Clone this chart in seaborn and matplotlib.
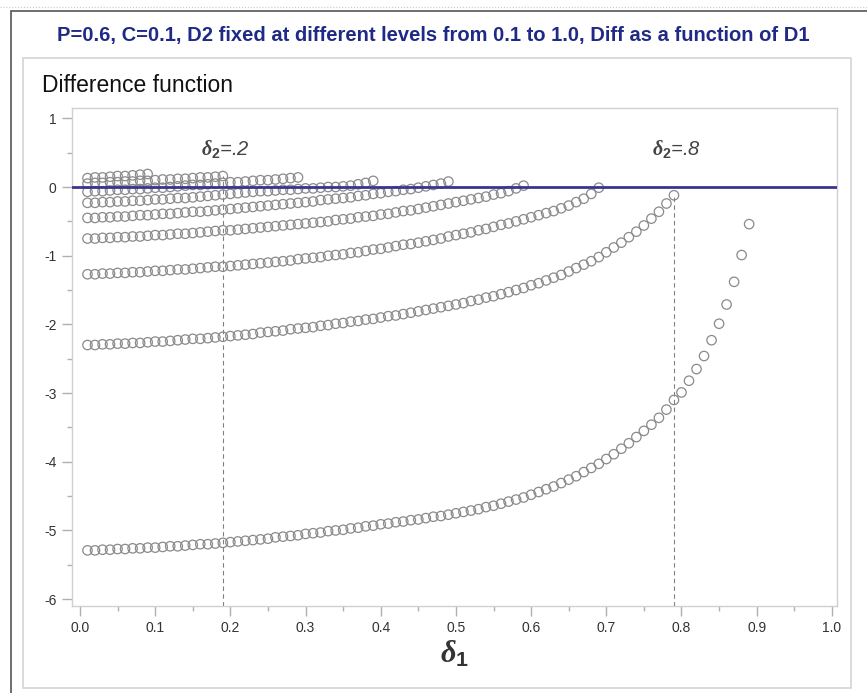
import seaborn as sns
import pandas as pd
import matplotlib
matplotlib.use("Agg")
from matplotlib import pyplot as plt
from matplotlib.patches import Rectangle
from matplotlib.lines import Line2D
from matplotlib.ticker import MultipleLocator

# D1 grid (delta_1), step of one hundredth
d1 = [0.01, 0.02, 0.03, 0.04, 0.05, 0.06, 0.07, 0.08, 0.09, 0.10,
      0.11, 0.12, 0.13, 0.14, 0.15, 0.16, 0.17, 0.18, 0.19, 0.20,
      0.21, 0.22, 0.23, 0.24, 0.25, 0.26, 0.27, 0.28, 0.29, 0.30,
      0.31, 0.32, 0.33, 0.34, 0.35, 0.36, 0.37, 0.38, 0.39, 0.40,
      0.41, 0.42, 0.43, 0.44, 0.45, 0.46, 0.47, 0.48, 0.49, 0.50,
      0.51, 0.52, 0.53, 0.54, 0.55, 0.56, 0.57, 0.58, 0.59, 0.60,
      0.61, 0.62, 0.63, 0.64, 0.65, 0.66, 0.67, 0.68, 0.69, 0.70,
      0.71, 0.72, 0.73, 0.74, 0.75, 0.76, 0.77, 0.78, 0.79, 0.80,
      0.81, 0.82, 0.83, 0.84, 0.85, 0.86, 0.87, 0.88, 0.89]

# Diff values for each fixed D2 level (each curve runs D1 = 0.01 .. D2-0.01)
diff_d2_01 = [0.13, 0.14, 0.14, 0.15, 0.16, 0.16, 0.17, 0.18, 0.19]
diff_d2_02 = [0.05, 0.06, 0.06, 0.07, 0.07, 0.08, 0.08, 0.09, 0.09, 0.10,
              0.11, 0.11, 0.12, 0.12, 0.13, 0.14, 0.14, 0.15, 0.16]
diff_d2_03 = [-0.07, -0.06, -0.06, -0.05, -0.04, -0.04, -0.03, -0.03, -0.02, -0.01,
              -0.01, 0.00, 0.01, 0.02, 0.03, 0.03, 0.04, 0.05, 0.06, 0.07,
              0.07, 0.08, 0.09, 0.10, 0.10, 0.11, 0.12, 0.13, 0.14]
diff_d2_04 = [-0.23, -0.23, -0.22, -0.22, -0.21, -0.21, -0.20, -0.20, -0.19, -0.18,
              -0.18, -0.17, -0.16, -0.16, -0.15, -0.14, -0.13, -0.12, -0.11, -0.10,
              -0.09, -0.08, -0.07, -0.06, -0.06, -0.05, -0.04, -0.04, -0.03, -0.02,
              -0.02, -0.01, 0.00, 0.00, 0.01, 0.02, 0.04, 0.06, 0.09]
diff_d2_05 = [-0.45, -0.45, -0.44, -0.44, -0.43, -0.43, -0.42, -0.41, -0.41, -0.40,
              -0.39, -0.39, -0.38, -0.37, -0.36, -0.36, -0.35, -0.34, -0.33, -0.32,
              -0.31, -0.30, -0.29, -0.28, -0.27, -0.26, -0.25, -0.24, -0.23, -0.22,
              -0.21, -0.19, -0.18, -0.17, -0.16, -0.15, -0.13, -0.12, -0.10, -0.09,
              -0.07, -0.06, -0.04, -0.03, -0.01, 0.01, 0.03, 0.05, 0.08]
diff_d2_06 = [-0.75, -0.75, -0.74, -0.74, -0.73, -0.73, -0.72, -0.72, -0.71, -0.70,
              -0.70, -0.69, -0.68, -0.68, -0.67, -0.66, -0.65, -0.64, -0.63, -0.63,
              -0.62, -0.61, -0.60, -0.59, -0.58, -0.57, -0.56, -0.55, -0.54, -0.53,
              -0.52, -0.51, -0.50, -0.48, -0.47, -0.46, -0.44, -0.43, -0.42, -0.40,
              -0.39, -0.37, -0.35, -0.34, -0.32, -0.30, -0.28, -0.26, -0.24, -0.22,
              -0.20, -0.18, -0.16, -0.14, -0.11, -0.09, -0.06, -0.02, 0.02]
diff_d2_07 = [-1.27, -1.27, -1.26, -1.26, -1.25, -1.25, -1.24, -1.24, -1.23, -1.22,
              -1.22, -1.21, -1.20, -1.20, -1.19, -1.18, -1.17, -1.16, -1.16, -1.15,
              -1.14, -1.13, -1.12, -1.11, -1.10, -1.09, -1.08, -1.07, -1.05, -1.04,
              -1.03, -1.02, -1.00, -0.99, -0.98, -0.96, -0.95, -0.93, -0.91, -0.90,
              -0.88, -0.86, -0.84, -0.83, -0.81, -0.79, -0.77, -0.75, -0.72, -0.70,
              -0.68, -0.66, -0.63, -0.61, -0.58, -0.55, -0.53, -0.50, -0.47, -0.44,
              -0.41, -0.38, -0.35, -0.31, -0.27, -0.22, -0.17, -0.10, -0.01]
diff_d2_08 = [-2.30, -2.30, -2.29, -2.29, -2.28, -2.28, -2.27, -2.27, -2.26, -2.25,
              -2.25, -2.24, -2.23, -2.22, -2.21, -2.21, -2.20, -2.19, -2.18, -2.17,
              -2.16, -2.15, -2.14, -2.12, -2.11, -2.10, -2.09, -2.07, -2.06, -2.05,
              -2.04, -2.02, -2.01, -1.99, -1.98, -1.96, -1.95, -1.93, -1.92, -1.90,
              -1.88, -1.87, -1.85, -1.83, -1.81, -1.79, -1.77, -1.75, -1.73, -1.71,
              -1.69, -1.66, -1.64, -1.61, -1.59, -1.56, -1.53, -1.50, -1.47, -1.43,
              -1.40, -1.36, -1.32, -1.28, -1.23, -1.18, -1.13, -1.08, -1.02, -0.95,
              -0.88, -0.81, -0.73, -0.65, -0.56, -0.46, -0.36, -0.24, -0.12]
diff_d2_09 = [-5.29, -5.29, -5.28, -5.28, -5.27, -5.27, -5.26, -5.26, -5.25, -5.25,
              -5.24, -5.23, -5.23, -5.22, -5.21, -5.20, -5.20, -5.19, -5.18, -5.17,
              -5.16, -5.15, -5.14, -5.13, -5.12, -5.10, -5.09, -5.08, -5.07, -5.05,
              -5.04, -5.03, -5.01, -5.00, -4.99, -4.97, -4.96, -4.94, -4.93, -4.91,
              -4.90, -4.88, -4.87, -4.85, -4.84, -4.82, -4.80, -4.79, -4.77, -4.75,
              -4.73, -4.71, -4.69, -4.66, -4.64, -4.61, -4.58, -4.55, -4.52, -4.48,
              -4.44, -4.40, -4.36, -4.31, -4.26, -4.21, -4.15, -4.09, -4.03, -3.96,
              -3.89, -3.81, -3.73, -3.64, -3.55, -3.46, -3.36, -3.24, -3.10, -2.99,
              -2.82, -2.65, -2.46, -2.23, -1.99, -1.71, -1.38, -0.99, -0.54]

d2_levels = [0.1, 0.2, 0.3, 0.4, 0.5, 0.6, 0.7, 0.8, 0.9]
diff_curves = [diff_d2_01, diff_d2_02, diff_d2_03, diff_d2_04, diff_d2_05,
               diff_d2_06, diff_d2_07, diff_d2_08, diff_d2_09]

# reference markers: delta_2 = .2 and .8 (drawn at the last D1 of those curves)
ref_labels = ["=.2", "=.8"]
ref_curves = [1, 7]

frames = []
for lvl, vals in zip(d2_levels, diff_curves):
    frames.append(pd.DataFrame({"d1": d1[:len(vals)], "diff": vals, "d2": lvl}))
df = pd.concat(frames, ignore_index=True)

sns.set_style("white")
plt.rcParams["font.family"] = ["Liberation Sans", "DejaVu Sans"]
plt.rcParams["axes.unicode_minus"] = False
plt.rcParams["mathtext.fontset"] = "custom"
plt.rcParams["mathtext.it"] = "Liberation Serif:italic:bold"
plt.rcParams["mathtext.rm"] = "Liberation Sans:bold"

fig = plt.figure(figsize=(8.67, 6.93), dpi=100)
ax = fig.add_axes([0.0827, 0.1255, 0.8824, 0.7186])

# decorative frames like the original output window
fig.add_artist(Line2D([0, 1], [0.990, 0.990], color="#c8c8c8", lw=0.8, ls=":"))
fig.add_artist(Rectangle((0.0127, -0.01), 0.99, 0.9941, transform=fig.transFigure,
                         fill=False, ec="#555555", lw=1.2))
fig.add_artist(Rectangle((0.0262, 0.007), 0.955, 0.909, transform=fig.transFigure,
                         fill=False, ec="#d4d4d4", lw=1.2))

sns.scatterplot(data=df, x="d1", y="diff", marker="o", s=46,
                facecolor="none", edgecolor="#8a8a8a", linewidth=0.9,
                legend=False, ax=ax, zorder=3)

ax.axhline(0, color="#3b348e", lw=2.0, zorder=4)

for lab, ci in zip(ref_labels, ref_curves):
    xr = d1[len(diff_curves[ci]) - 1]
    yr = diff_curves[ci][-1]
    ax.plot([xr, xr], [-6.10, yr], color="#808080", lw=0.8, ls=(0, (4, 3)), zorder=2)
    ax.text(xr + 0.004, 0.56, r"$\delta_{2}$" + lab, ha="center", va="center",
            fontsize=14.5, fontstyle="italic", color="#444444")

ax.set_xlim(-0.011, 1.0065)
ax.set_ylim(-6.10, 1.15)
ax.xaxis.set_major_locator(MultipleLocator(0.1))
ax.xaxis.set_minor_locator(MultipleLocator(0.05))
ax.yaxis.set_major_locator(MultipleLocator(1))
ax.yaxis.set_minor_locator(MultipleLocator(0.5))
ax.xaxis.set_major_formatter(plt.FuncFormatter(lambda v, p: f"{v:.1f}"))
ax.yaxis.set_major_formatter(plt.FuncFormatter(lambda v, p: f"{v:.0f}"))
ax.tick_params(which="major", length=7, width=1, color="#b0b0b0",
               labelsize=10, labelcolor="#333333", pad=4, bottom=True, left=True)
ax.tick_params(which="minor", length=3.5, width=1, color="#b0b0b0",
               bottom=True, left=True)
for sp in ax.spines.values():
    sp.set_color("#d0d0d0")
    sp.set_linewidth(1)

ax.set_xlabel(r"$\delta_{1}$", fontsize=22, labelpad=3, color="#333333")
ax.set_ylabel("")

fig.text(0.5, 0.949, "P=0.6, C=0.1, D2 fixed at different levels from 0.1 to 1.0, Diff as a function of D1",
         ha="center", va="center", fontsize=14.5, fontweight="bold", color="#1f2a86")
fig.text(0.048, 0.877, "Difference function", ha="left", va="center",
         fontsize=16.5, color="#111111")

fig.savefig("out.png", dpi=100)
